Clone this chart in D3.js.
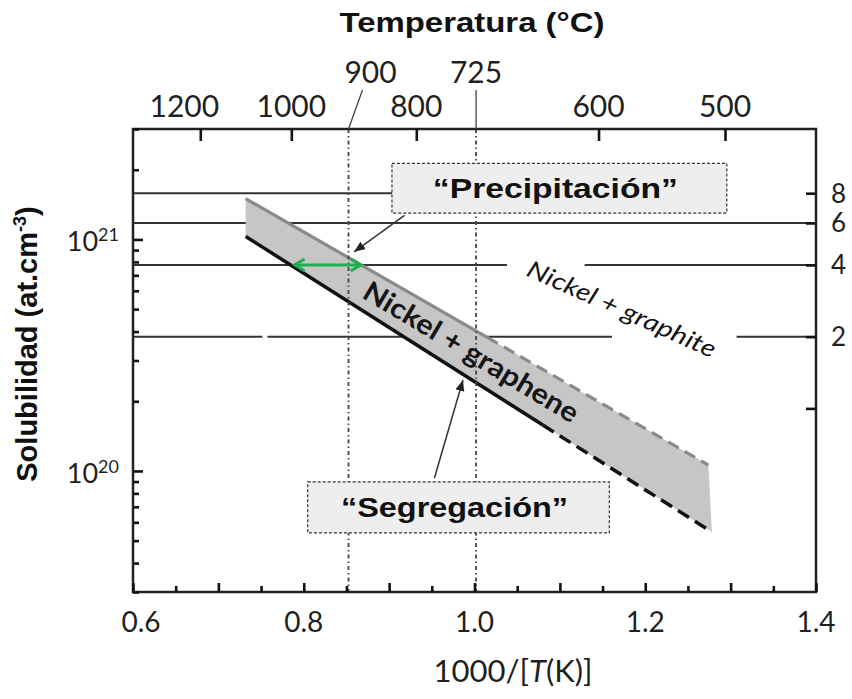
<!DOCTYPE html>
<html lang="es">
<head>
<meta charset="UTF-8">
<title>Solubilidad del carbono en níquel</title>
<script src="https://d3js.org/d3.v7.min.js"></script>
<style>
  body { margin: 0; background: #fff; }
  .axis path { display: none; }
  .num { font-family: Lato, "Open Sans", sans-serif; fill: #1f1f1f; }
  .bold { font-family: "Liberation Sans", Arial, sans-serif; font-weight: bold; fill: #111; }
</style>
</head>
<body>
<script>
  // ---- data ----
  // top axis: temperature in °C, drawn at 1000/(T+273.15)
  const topTicks = [1200, 1000, 800, 600, 500];
  const topMarks = [900, 725];            // upper-row labels with dotted verticals
  const bottomLabels = [0.6, 0.8, 1.0, 1.2, 1.4];
  const leftExponents = [21, 20];
  const rightTicks = [8, 6, 4, 2, 1];
  const rightLabels = [8, 6, 4, 2];

  // solubility limits (1000/T, at.cm-3); solid part = first two points, dashed = last two
  const graphiteX = [0.732, 1.015, 1.274];
  const graphiteC = [1.50e21, 3.78e20, 1.06e20];
  const grapheneX = [0.732, 1.08, 1.278];
  const grapheneC = [1.03e21, 1.58e20, 5.45e19];

  // horizontal reference levels (right axis) and the 1000/T spans where they show
  const levels = [8, 6, 4, 2];
  const levelSpans = [
    [[0.6, 1.0]],
    [[0.6, 1.4]],
    [[0.6, 1.038], [1.129, 1.4]],
    [[0.6, 0.7515], [0.7575, 1.161], [1.307, 1.4]]
  ];

  // green double arrow on level 4
  const greenSpan = [0.787, 0.869];

  // annotation boxes: [x0, x1] in 1000/T, [top, bottom] in at.cm-3
  const precipBox = { x: [0.9033, 1.2955], c: [2.13e21, 1.30e21], text: '\u201CPrecipitación\u201D' };
  const segregBox = { x: [0.8046, 1.1579], c: [8.97e19, 5.40e19], text: '\u201CSegregación\u201D' };
  // pointer arrows: [from, to] as [1000/T, at.cm-3]
  const precipArrow = [[0.918, 1.27e21], [0.859, 8.84e20]];
  const segregArrow = [[0.953, 9.3e19], [0.9865, 2.47e20]];

  // ---- layout ----
  const svgWidth = 852, svgHeight = 699;
  const margin = { top: 129, right: 36, bottom: 107, left: 133 };
  const width = svgWidth - margin.left - margin.right;
  const height = svgHeight - margin.top - margin.bottom;

  const svg = d3.select('body').append('svg')
    .attr('width', svgWidth)
    .attr('height', svgHeight);
  const g = svg.append('g')
    .attr('transform', `translate(${margin.left},${margin.top})`);

  const x = d3.scaleLinear().domain([0.6, 1.4]).range([0, width]);
  const y = d3.scaleLog().domain([3e19, 3e21]).range([height, 0]);
  const yR = d3.scaleLog().domain([1, 8]).range([279.4, 64.2]);
  const tempX = t => x(1000 / (t + 273.15));

  // markers
  const defs = svg.append('defs');
  defs.append('marker')
    .attr('id', 'head').attr('markerUnits', 'userSpaceOnUse')
    .attr('markerWidth', 12).attr('markerHeight', 10)
    .attr('refX', 11).attr('refY', 4.5).attr('orient', 'auto')
    .append('path').attr('d', 'M0,0 L11,4.5 L0,9 Z').attr('fill', '#222');
  defs.append('marker')
    .attr('id', 'ghead').attr('markerUnits', 'userSpaceOnUse')
    .attr('markerWidth', 14).attr('markerHeight', 16)
    .attr('refX', 11).attr('refY', 7).attr('orient', 'auto-start-reverse')
    .append('path').attr('d', 'M1,1 L11,7 L1,13').attr('fill', 'none')
    .attr('stroke', '#1fae4f').attr('stroke-width', 3);

  // horizontal levels
  levels.forEach((v, i) => {
    g.selectAll(null).data(levelSpans[i]).enter().append('line')
      .attr('x1', d => x(d[0])).attr('x2', d => x(d[1]))
      .attr('y1', yR(v)).attr('y2', yR(v))
      .attr('stroke', '#333').attr('stroke-width', 2);
  });

  // band between the two limits
  const upper = graphiteX.map((d, i) => [x(d), y(graphiteC[i])]);
  const lower = grapheneX.map((d, i) => [x(d), y(grapheneC[i])]);
  g.append('path')
    .attr('d', d3.line()(upper.concat(lower.slice().reverse())) + 'Z')
    .attr('fill', '#c6c6c6');

  const line = d3.line();
  g.append('path').attr('d', line(upper.slice(0, 2)))
    .attr('fill', 'none').attr('stroke', '#8a8a8a').attr('stroke-width', 3.2);
  g.append('path').attr('d', line(upper.slice(1)))
    .attr('fill', 'none').attr('stroke', '#8a8a8a').attr('stroke-width', 3.2)
    .attr('stroke-dasharray', '12,7');
  g.append('path').attr('d', line(lower.slice(0, 2)))
    .attr('fill', 'none').attr('stroke', '#111').attr('stroke-width', 3.5);
  g.append('path').attr('d', line(lower.slice(1)))
    .attr('fill', 'none').attr('stroke', '#111').attr('stroke-width', 3.5)
    .attr('stroke-dasharray', '13,7');

  // dotted verticals at 900 and 725 °C
  g.selectAll('.vmark').data(topMarks).enter().append('line')
    .attr('class', 'vmark')
    .attr('x1', tempX).attr('x2', tempX)
    .attr('y1', 0).attr('y2', height)
    .attr('stroke', '#444').attr('stroke-width', 1.8)
    .attr('stroke-dasharray', '4,3,1.5,3');

  // band labels
  g.append('text')
    .attr('class', 'num')
    .attr('transform', `translate(${x(0.9962)},${y(3.27e20)}) rotate(31)`)
    .attr('text-anchor', 'middle').attr('dy', '0.35em')
    .style('font-weight', 'bold').style('font-size', '28px').style('fill', '#151515')
    .attr('textLength', 246).attr('lengthAdjust', 'spacingAndGlyphs')
    .text('Nickel + graphene');
  g.append('text')
    .attr('class', 'num')
    .attr('transform', `translate(${x(1.1724)},${y(5.01e20)}) rotate(24)`)
    .attr('text-anchor', 'middle').attr('dy', '0.35em')
    .style('font-style', 'italic').style('font-size', '24px').style('fill', '#151515')
    .attr('textLength', 204).attr('lengthAdjust', 'spacingAndGlyphs')
    .text('Nickel + graphite');

  // green double arrow
  g.append('line')
    .attr('x1', x(greenSpan[0]) + 2).attr('x2', x(greenSpan[1]) - 2)
    .attr('y1', yR(4)).attr('y2', yR(4))
    .attr('stroke', '#1fae4f').attr('stroke-width', 3)
    .attr('marker-start', 'url(#ghead)').attr('marker-end', 'url(#ghead)');

  // annotation boxes and pointers
  [[precipBox, precipArrow, 245], [segregBox, segregArrow, 227]].forEach(([b, a, len]) => {
    g.append('line')
      .attr('x1', x(a[0][0])).attr('y1', y(a[0][1]))
      .attr('x2', x(a[1][0])).attr('y2', y(a[1][1]))
      .attr('stroke', '#333').attr('stroke-width', 1.5)
      .attr('marker-end', 'url(#head)');
    const x0 = x(b.x[0]), x1 = x(b.x[1]), y0 = y(b.c[0]), y1 = y(b.c[1]);
    g.append('rect')
      .attr('x', x0).attr('y', y0).attr('width', x1 - x0).attr('height', y1 - y0)
      .attr('fill', '#eeeeee').attr('stroke', '#333').attr('stroke-width', 1.2)
      .attr('stroke-dasharray', '3,2');
    g.append('text')
      .attr('class', 'bold')
      .attr('x', (x0 + x1) / 2 - 4).attr('y', (y0 + y1) / 2 + 10)
      .attr('text-anchor', 'middle').style('font-size', '28px')
      .attr('textLength', len).attr('lengthAdjust', 'spacingAndGlyphs')
      .text(b.text);
  });

  // frame
  g.append('rect')
    .attr('width', width).attr('height', height)
    .attr('fill', 'none').attr('stroke', '#222').attr('stroke-width', 2.5);

  const styleTicks = sel => sel.selectAll('.tick line')
    .attr('stroke', '#111').attr('stroke-width', 2.6);

  // bottom axis: ticks inward every 0.05
  const bAxis = g.append('g').attr('class', 'axis')
    .attr('transform', `translate(0,${height})`)
    .call(d3.axisTop(x).ticks(16).tickFormat(''));
  styleTicks(bAxis);
  bAxis.selectAll('.tick line')
    .attr('y2', d => Math.abs(Math.round(d * 10) - d * 10) < 1e-6 ? -9 : -6);
  g.selectAll('.blabel').data(bottomLabels).enter().append('text')
    .attr('class', 'num blabel')
    .attr('x', d => x(d) + (d === 0.6 ? 8 : 0)).attr('y', height + 40)
    .attr('text-anchor', 'middle').style('font-size', '28px')
    .text(d3.format('.1f'));

  // top axis (temperature)
  const tAxis = g.append('g').attr('class', 'axis')
    .call(d3.axisBottom(x).tickValues(topTicks.map(t => 1000 / (t + 273.15)))
      .tickSize(12).tickFormat(''));
  styleTicks(tAxis);
  g.selectAll('.tlabel').data(topTicks).enter().append('text')
    .attr('class', 'num tlabel')
    .attr('x', d => tempX(d) - (d === 1200 ? 16 : 0)).attr('y', -12)
    .attr('text-anchor', 'middle').style('font-size', '30px')
    .text(d => d);
  const markDx = [22, 0], leaderDx = [14, 0];
  topMarks.forEach((t, i) => {
    g.append('line')
      .attr('x1', tempX(t) + leaderDx[i]).attr('y1', -39)
      .attr('x2', tempX(t)).attr('y2', 0)
      .attr('stroke', '#444').attr('stroke-width', 1.3);
    g.append('text')
      .attr('class', 'num')
      .attr('x', tempX(t) + markDx[i]).attr('y', -46)
      .attr('text-anchor', 'middle').style('font-size', '30px')
      .text(t);
  });

  // left axis: log ticks inward
  const lAxis = g.append('g').attr('class', 'axis')
    .call(d3.axisRight(y).tickValues(y.ticks()).tickFormat(''));
  styleTicks(lAxis);
  lAxis.selectAll('.tick line')
    .attr('x2', d => Math.abs(Math.log10(d) - Math.round(Math.log10(d))) < 1e-6 ? 10 : 6);
  leftExponents.forEach(e => {
    const t = g.append('text')
      .attr('class', 'num')
      .attr('x', -14).attr('y', y(Math.pow(10, e)) + 12)
      .attr('text-anchor', 'end').style('font-size', '27px');
    t.append('tspan').text('10');
    t.append('tspan').attr('dy', -10).style('font-size', '18px').text(e);
  });

  // right axis
  const rAxis = g.append('g').attr('class', 'axis')
    .attr('transform', `translate(${width},0)`)
    .call(d3.axisLeft(yR).tickValues(rightTicks).tickSize(10).tickFormat(''));
  styleTicks(rAxis);
  g.selectAll('.rlabel').data(rightLabels).enter().append('text')
    .attr('class', 'num rlabel')
    .attr('x', width + 15).attr('y', d => yR(d)).attr('dy', '0.36em')
    .style('font-size', '26px')
    .text(d => d);

  // axis titles
  g.append('text')
    .attr('class', 'bold')
    .attr('x', 339).attr('y', -97)
    .attr('text-anchor', 'middle').style('font-size', '28px')
    .attr('textLength', 265).attr('lengthAdjust', 'spacingAndGlyphs')
    .text('Temperatura (°C)');

  const xt = g.append('text')
    .attr('class', 'num')
    .attr('x', 380).attr('y', height + 90)
    .attr('text-anchor', 'middle').style('font-size', '31px');
  xt.append('tspan').text('1000/[');
  xt.append('tspan').style('font-style', 'italic').text('T');
  xt.append('tspan').text('(K)]');

  const yt = g.append('text')
    .attr('class', 'bold')
    .attr('transform', 'rotate(-90)')
    .attr('x', -215).attr('y', -96)
    .attr('text-anchor', 'middle').style('font-size', '29px');
  yt.append('tspan').text('Solubilidad (at.cm');
  yt.append('tspan').attr('dy', -11).style('font-size', '18px').text('-3');
  yt.append('tspan').attr('dy', 11).text(')');
</script>
</body>
</html>
